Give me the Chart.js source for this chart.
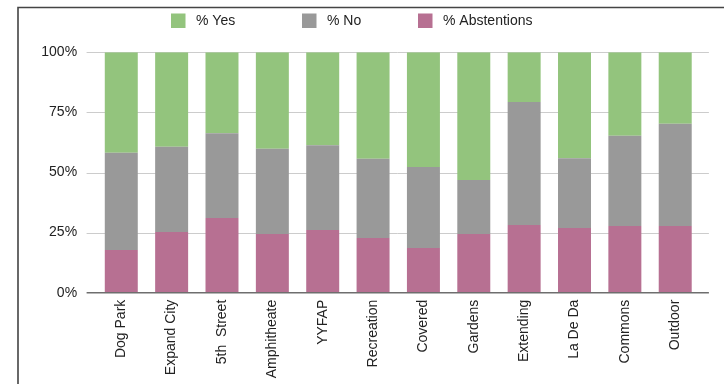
<!DOCTYPE html>
<html>
<head>
<meta charset="utf-8">
<script src="https://cdn.jsdelivr.net/npm/chart.js@4"></script>
<style>
  html, body { margin: 0; padding: 0; background: #ffffff; }
  #wrap { width: 724px; height: 384px; position: relative; }
</style>
</head>
<body>
<div id="wrap"><canvas id="c" width="724" height="384"></canvas></div>
<script>
// ---- data ----
const categories = ["Dog Park", "Expand City", "5th  Street", "Amphitheate", "YYFAP", "Recreation",
                    "Covered", "Gardens", "Extending", "La De Da", "Commons", "Outdoor"];
const yesPct  = [41.8, 39.3, 33.7, 40.1, 38.7, 44.3, 47.7, 53.1, 20.7, 44.1, 34.7, 29.7];
const noPct   = [40.4, 35.5, 35.2, 35.5, 35.2, 32.9, 33.7, 22.5, 51.1, 29.0, 37.6, 42.6];
const abstPct = [17.8, 25.2, 31.1, 24.4, 26.1, 22.8, 18.6, 24.4, 28.2, 26.9, 27.7, 27.7];
const yTicks  = [0, 25, 50, 75, 100];
const seriesNames = ["% Yes", "% No", "% Abstentions"];

const FONT = "'Liberation Sans', Arial, sans-serif";
const TEXT = "#222222";

const frame = {
  id: 'frame',
  beforeDraw(chart) {
    const ctx = chart.ctx;
    ctx.save();
    ctx.fillStyle = '#ffffff';
    ctx.fillRect(0, 0, chart.width, chart.height);
    ctx.strokeStyle = '#444444';
    ctx.lineWidth = 1.6;
    ctx.beginPath();
    ctx.moveTo(18, chart.height);
    ctx.lineTo(18, 7.5);
    ctx.lineTo(chart.width, 7.5);
    ctx.stroke();
    ctx.restore();
  },
  beforeDatasetsDraw(chart) {
    const ctx = chart.ctx, y = chart.scales.y, a = chart.chartArea;
    ctx.save();
    ctx.strokeStyle = '#cccccc';
    ctx.lineWidth = 1;
    yTicks.forEach(v => {
      if (v === 0) return;
      const py = Math.round(y.getPixelForValue(v)) + 0.5;
      ctx.beginPath();
      ctx.moveTo(a.left - 9.5, py);
      ctx.lineTo(a.right + 8.5, py);
      ctx.stroke();
    });
    ctx.restore();
  },
  afterDatasetsDraw(chart) {
    const ctx = chart.ctx, y = chart.scales.y, a = chart.chartArea;
    ctx.save();
    ctx.strokeStyle = '#6e6e6e';
    ctx.lineWidth = 1.5;
    const py = y.getPixelForValue(0);
    ctx.beginPath();
    ctx.moveTo(a.left - 9.5, py);
    ctx.lineTo(a.right + 8.5, py);
    ctx.stroke();
    // legend
    const boxX = [171, 302, 418];
    const order = [2, 1, 0];
    ctx.font = '14px ' + FONT;
    ctx.textBaseline = 'middle';
    ctx.textAlign = 'left';
    order.forEach((di, i) => {
      const ds = chart.data.datasets[di];
      ctx.fillStyle = ds.backgroundColor;
      ctx.fillRect(boxX[i], 13.5, 14.5, 14.5);
      ctx.fillStyle = TEXT;
      ctx.fillText(ds.label, boxX[i] + 25, 21);
    });
    ctx.restore();
  }
};

new Chart(document.getElementById('c'), {
  type: 'bar',
  data: {
    labels: categories,
    datasets: [
      { label: seriesNames[2], data: abstPct, backgroundColor: '#b77092' },
      { label: seriesNames[1], data: noPct,   backgroundColor: '#999999' },
      { label: seriesNames[0], data: yesPct,  backgroundColor: '#93c47d' }
    ]
  },
  options: {
    responsive: false,
    animation: false,
    devicePixelRatio: 1,
    layout: { padding: { left: 18, right: 23.6, top: 52.3, bottom: 0 } },
    datasets: { bar: { categoryPercentage: 1, barPercentage: 0.655, borderWidth: 0 } },
    plugins: { legend: { display: false }, tooltip: { enabled: false } },
    scales: {
      x: {
        stacked: true,
        grid: { display: false, drawTicks: false },
        border: { display: false },
        afterFit(s) { s.height = 91.3; },
        ticks: {
          autoSkip: false, minRotation: 90, maxRotation: 90, padding: 7,
          color: TEXT, font: { family: FONT, size: 14 }
        }
      },
      y: {
        stacked: true, min: 0, max: 100,
        afterFit(s) { s.width = 78.1; },
        afterBuildTicks(s) { s.ticks = yTicks.map(v => ({ value: v })); },
        grid: { display: false, drawTicks: false },
        border: { display: false },
        ticks: {
          padding: 19, color: TEXT, font: { family: FONT, size: 14 },
          callback: v => v + '%'
        }
      }
    }
  },
  plugins: [frame]
});
</script>
</body>
</html>
